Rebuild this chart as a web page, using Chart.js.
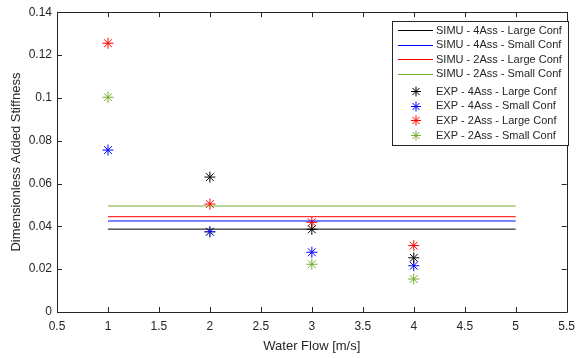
<!DOCTYPE html>
<html><head><meta charset="utf-8">
<script src="https://cdn.jsdelivr.net/npm/chart.js@4/dist/chart.umd.min.js"></script>
<style>html,body{margin:0;padding:0;background:#fff}#wrap{width:582px;height:358px}</style>
</head><body><div id="wrap"><canvas id="c" width="582" height="358"></canvas></div>
<script>
const flows = [1, 2, 3, 4];
const simuRange = [1, 5];
const seriesLabels = ['4Ass - Large Conf', '4Ass - Small Conf', '2Ass - Large Conf', '2Ass - Small Conf'];
const seriesColors = ['#000000', '#0000ff', '#ff0000', '#77ac30'];
const simu4Large = 0.0387;
const simu4Small = 0.0425;
const simu2Large = 0.0445;
const simu2Small = 0.0495;
const exp4Large = [null, 0.0630, 0.0386, 0.0253];
const exp4Small = [0.0756, 0.0375, 0.0279, 0.0216];
const exp2Large = [0.1255, 0.0504, 0.0419, 0.0310];
const exp2Small = [0.1003, 0.0373, 0.0223, 0.0154];
const xTicks = [0.5,1,1.5,2,2.5,3,3.5,4,4.5,5,5.5];
const yTicks = [0,0.02,0.04,0.06,0.08,0.1,0.12,0.14];

const simuVals = [simu4Large, simu4Small, simu2Large, simu2Small];
const expVals = [exp4Large, exp4Small, exp2Large, exp2Small];

const datasets = [];
simuVals.forEach((v,i)=>{
  datasets.push({label:'SIMU - '+seriesLabels[i], data: simuRange.map(x=>({x:x,y:v})), showLine:true,
    borderColor:seriesColors[i], backgroundColor:seriesColors[i], borderWidth:1, pointRadius:0});
});
expVals.forEach((arr,i)=>{
  datasets.push({label:'EXP - '+seriesLabels[i], data: flows.map((x,j)=>({x:x,y:arr[j]})).filter(p=>p.y!==null),
    showLine:false, borderColor:seriesColors[i], backgroundColor:seriesColors[i], borderWidth:1,
    pointStyle:'star', pointRadius:5.5});
});

const FONT = '"Liberation Sans", Arial, sans-serif';
const AX = '#262626';

function star(ctx, cx, cy, r, color){
  ctx.strokeStyle = color; ctx.lineWidth = 1;
  ctx.beginPath();
  ctx.moveTo(cx-r,cy);ctx.lineTo(cx+r,cy);ctx.moveTo(cx,cy-r);ctx.lineTo(cx,cy+r);
  const d=r*0.7071;
  ctx.moveTo(cx-d,cy-d);ctx.lineTo(cx+d,cy+d);ctx.moveTo(cx-d,cy+d);ctx.lineTo(cx+d,cy-d);
  ctx.stroke();
}

const frame = {
  id:'frame',
  afterDraw(chart){
    const ctx = chart.ctx, a = chart.chartArea, xs = chart.scales.x, ys = chart.scales.y;
    ctx.save();
    ctx.strokeStyle = AX; ctx.lineWidth = 1;
    ctx.beginPath();
    ctx.rect(Math.round(a.left)+0.5, Math.round(a.top)+0.5, Math.round(a.right-a.left), Math.round(a.bottom-a.top));
    ctx.stroke();
    const tl = 5;
    ctx.beginPath();
    xTicks.forEach(t=>{
      const p = Math.round(xs.getPixelForValue(t))+0.5;
      ctx.moveTo(p, a.bottom); ctx.lineTo(p, a.bottom-tl);
      ctx.moveTo(p, a.top); ctx.lineTo(p, a.top+tl);
    });
    yTicks.forEach(t=>{
      const p = Math.round(ys.getPixelForValue(t))+0.5;
      ctx.moveTo(a.left, p); ctx.lineTo(a.left+tl, p);
      ctx.moveTo(a.right, p); ctx.lineTo(a.right-tl, p);
    });
    ctx.stroke();
    // legend
    const lx = 392.5, ly = 21.5, lw = 176, lh = 124;
    ctx.fillStyle = '#fff'; ctx.fillRect(lx, ly, lw, lh);
    ctx.strokeStyle = AX; ctx.lineWidth = 1; ctx.strokeRect(lx, ly, lw, lh);
    ctx.font = '11px ' + FONT; ctx.textBaseline = 'middle'; ctx.textAlign = 'left';
    const rowsY = [30, 44.5, 59, 73.5, 91, 105.7, 120.3, 135];
    chart.data.datasets.forEach((ds,i)=>{
      const y = rowsY[i];
      const col = seriesColors[i % 4];
      if (i < 4){
        ctx.fillStyle = col;
        ctx.fillRect(398, Math.round(y), 35, 1);
      } else {
        star(ctx, 416, Math.round(y)+0.5, 5, col);
      }
      ctx.fillStyle = AX; ctx.fillText(ds.label, 436, y+0.5);
    });
    ctx.restore();
  }
};

new Chart(document.getElementById('c'), {
  type:'scatter',
  data:{datasets},
  options:{
    responsive:false, animation:false, devicePixelRatio:1,
    layout:{autoPadding:false, padding:{left:0, right:3, top:12, bottom:0}},
    plugins:{legend:{display:false}, tooltip:{enabled:false}},
    scales:{
      x:{type:'linear', min:0.5, max:5.5,
        afterBuildTicks(s){ s.ticks = xTicks.map(v=>({value:v})); },
        afterFit(s){ s.height = 46; },
        grid:{display:false, drawTicks:false}, border:{display:false},
        ticks:{color:AX, font:{family:FONT, size:12}, padding:7, maxRotation:0, autoSkip:false,
          callback:v=>String(v)},
        title:{display:true, text:'Water Flow [m/s]', color:AX, font:{family:FONT, size:13}, padding:{top:3}}
      },
      y:{type:'linear', min:0, max:0.14,
        afterBuildTicks(s){ s.ticks = yTicks.map(v=>({value:v})); },
        afterFit(s){ s.width = 57; },
        grid:{display:false, drawTicks:false}, border:{display:false},
        ticks:{color:AX, font:{family:FONT, size:12}, padding:5, autoSkip:false,
          callback:v=>String(+v.toFixed(2))},
        title:{display:true, text:'Dimensionless Added Stiffness', color:AX, font:{family:FONT, size:13}, padding:{bottom:0, top:9}}
      }
    }
  },
  plugins:[frame]
});
</script></body></html>
